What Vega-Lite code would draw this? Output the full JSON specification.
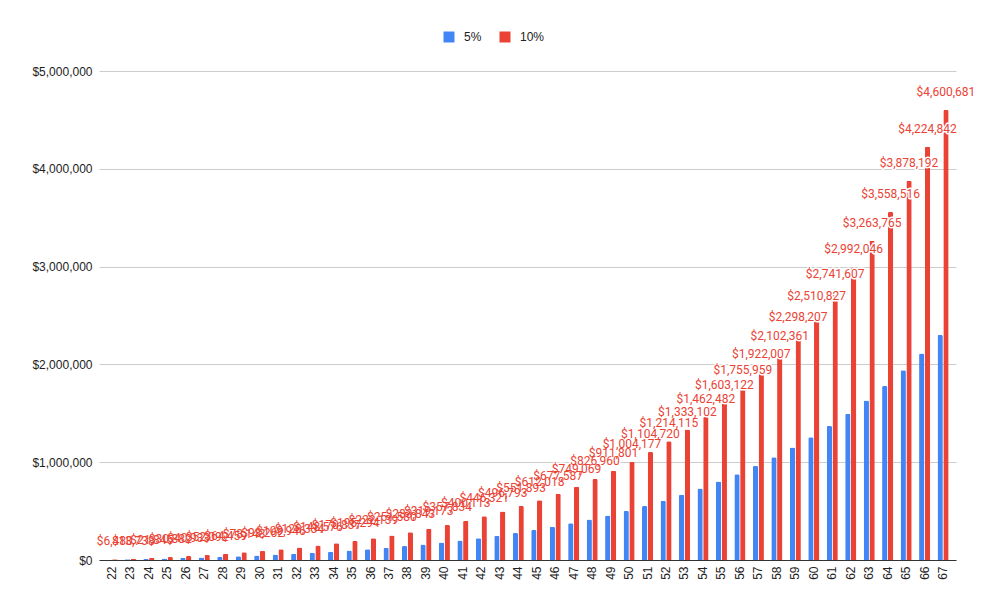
{
  "$schema": "https://vega.github.io/schema/vega-lite/v6.json",
  "width": 857,
  "height": 489,
  "autosize": {"type": "none"},
  "padding": {"left": 99, "top": 71, "right": 31, "bottom": 51},
  "background": "white",
  "config": {
    "view": {"stroke": null},
    "font": "Liberation Sans"
  },
  "data": {
    "values": [
      {"age": 22, "series": "5%", "value": 3240}, {"age": 22, "series": "10%", "value": 6480},
      {"age": 23, "series": "5%", "value": 6869}, {"age": 23, "series": "10%", "value": 13738},
      {"age": 24, "series": "5%", "value": 10923}, {"age": 24, "series": "10%", "value": 21845},
      {"age": 25, "series": "5%", "value": 15441}, {"age": 25, "series": "10%", "value": 30882},
      {"age": 26, "series": "5%", "value": 20467}, {"age": 26, "series": "10%", "value": 40933},
      {"age": 27, "series": "5%", "value": 26046}, {"age": 27, "series": "10%", "value": 52092},
      {"age": 28, "series": "5%", "value": 32229}, {"age": 28, "series": "10%", "value": 64459},
      {"age": 29, "series": "5%", "value": 39071}, {"age": 29, "series": "10%", "value": 78143},
      {"age": 30, "series": "5%", "value": 46631}, {"age": 30, "series": "10%", "value": 93262},
      {"age": 31, "series": "5%", "value": 54973}, {"age": 31, "series": "10%", "value": 109946},
      {"age": 32, "series": "5%", "value": 64167}, {"age": 32, "series": "10%", "value": 128334},
      {"age": 33, "series": "5%", "value": 74288}, {"age": 33, "series": "10%", "value": 148576},
      {"age": 34, "series": "5%", "value": 85419}, {"age": 34, "series": "10%", "value": 170837},
      {"age": 35, "series": "5%", "value": 97647}, {"age": 35, "series": "10%", "value": 195294},
      {"age": 36, "series": "5%", "value": 111069}, {"age": 36, "series": "10%", "value": 222139},
      {"age": 37, "series": "5%", "value": 125790}, {"age": 37, "series": "10%", "value": 251580},
      {"age": 38, "series": "5%", "value": 141922}, {"age": 38, "series": "10%", "value": 283843},
      {"age": 39, "series": "5%", "value": 159586}, {"age": 39, "series": "10%", "value": 319173},
      {"age": 40, "series": "5%", "value": 178917}, {"age": 40, "series": "10%", "value": 357834},
      {"age": 41, "series": "5%", "value": 200057}, {"age": 41, "series": "10%", "value": 400113},
      {"age": 42, "series": "5%", "value": 223160}, {"age": 42, "series": "10%", "value": 446321},
      {"age": 43, "series": "5%", "value": 248396}, {"age": 43, "series": "10%", "value": 496793},
      {"age": 44, "series": "5%", "value": 275947}, {"age": 44, "series": "10%", "value": 551893},
      {"age": 45, "series": "5%", "value": 306009}, {"age": 45, "series": "10%", "value": 612018},
      {"age": 46, "series": "5%", "value": 338794}, {"age": 46, "series": "10%", "value": 677587},
      {"age": 47, "series": "5%", "value": 374535}, {"age": 47, "series": "10%", "value": 749069},
      {"age": 48, "series": "5%", "value": 413480}, {"age": 48, "series": "10%", "value": 826960},
      {"age": 49, "series": "5%", "value": 455900}, {"age": 49, "series": "10%", "value": 911801},
      {"age": 50, "series": "5%", "value": 502088}, {"age": 50, "series": "10%", "value": 1004177},
      {"age": 51, "series": "5%", "value": 552360}, {"age": 51, "series": "10%", "value": 1104720},
      {"age": 52, "series": "5%", "value": 607057}, {"age": 52, "series": "10%", "value": 1214115},
      {"age": 53, "series": "5%", "value": 666551}, {"age": 53, "series": "10%", "value": 1333102},
      {"age": 54, "series": "5%", "value": 731241}, {"age": 54, "series": "10%", "value": 1462482},
      {"age": 55, "series": "5%", "value": 801561}, {"age": 55, "series": "10%", "value": 1603122},
      {"age": 56, "series": "5%", "value": 877980}, {"age": 56, "series": "10%", "value": 1755959},
      {"age": 57, "series": "5%", "value": 961003}, {"age": 57, "series": "10%", "value": 1922007},
      {"age": 58, "series": "5%", "value": 1051180}, {"age": 58, "series": "10%", "value": 2102361},
      {"age": 59, "series": "5%", "value": 1149103}, {"age": 59, "series": "10%", "value": 2298207},
      {"age": 60, "series": "5%", "value": 1255413}, {"age": 60, "series": "10%", "value": 2510827},
      {"age": 61, "series": "5%", "value": 1370803}, {"age": 61, "series": "10%", "value": 2741607},
      {"age": 62, "series": "5%", "value": 1496023}, {"age": 62, "series": "10%", "value": 2992046},
      {"age": 63, "series": "5%", "value": 1631882}, {"age": 63, "series": "10%", "value": 3263765},
      {"age": 64, "series": "5%", "value": 1779258}, {"age": 64, "series": "10%", "value": 3558516},
      {"age": 65, "series": "5%", "value": 1939096}, {"age": 65, "series": "10%", "value": 3878192},
      {"age": 66, "series": "5%", "value": 2112421}, {"age": 66, "series": "10%", "value": 4224842},
      {"age": 67, "series": "5%", "value": 2300340}, {"age": 67, "series": "10%", "value": 4600681}
    ]
  },
  "encoding": {
    "x": {
      "field": "age",
      "type": "ordinal",
      "scale": {"paddingInner": 0.4, "paddingOuter": 0.4},
      "axis": {
        "title": null,
        "labelAngle": -90,
        "labelFontSize": 12,
        "labelColor": "#222222",
        "labelPadding": 6,
        "ticks": false,
        "domainColor": "#333333",
        "grid": false
      }
    },
    "y": {
      "field": "value",
      "type": "quantitative",
      "scale": {"domain": [0, 5000000]},
      "axis": {
        "title": null,
        "values": [0, 1000000, 2000000, 3000000, 4000000, 5000000],
        "format": "$,.0f",
        "labelFontSize": 12,
        "labelColor": "#222222",
        "labelPadding": 7,
        "ticks": false,
        "domain": false,
        "gridColor": "#cccccc"
      }
    }
  },
  "layer": [
    {
      "mark": {"type": "bar", "cornerRadiusTopLeft": 1.5, "cornerRadiusTopRight": 1.5},
      "encoding": {
        "xOffset": {"field": "series", "scale": {"domain": ["5%", "10%"], "paddingInner": 0.08}},
        "color": {
          "field": "series",
          "type": "nominal",
          "scale": {"domain": ["5%", "10%"], "range": ["#4285F4", "#EA4335"]},
          "legend": {
            "orient": "none",
            "legendX": 344,
            "legendY": -40,
            "direction": "horizontal",
            "title": null,
            "symbolType": "square",
            "symbolSize": 121,
            "symbolStrokeWidth": 0,
            "symbolOpacity": 1,
            "labelFontSize": 12,
            "labelColor": "#222222",
            "labelOffset": 9,
            "columnPadding": 17
          }
        }
      }
    },
    {
      "transform": [{"filter": "datum.series === '10%'"}],
      "mark": {
        "type": "text",
        "font": "Roboto",
        "fontSize": 12,
        "baseline": "alphabetic",
        "dy": -14,
        "fill": "white",
        "stroke": "white",
        "strokeWidth": 3,
        "strokeJoin": "round"
      },
      "encoding": {
        "xOffset": {"field": "series", "scale": {"domain": ["5%", "10%"], "paddingInner": 0.08}},
        "text": {"field": "value", "type": "quantitative", "format": "$,.0f"}
      }
    },
    {
      "transform": [{"filter": "datum.series === '10%'"}],
      "mark": {
        "type": "text",
        "font": "Roboto",
        "fontSize": 12,
        "baseline": "alphabetic",
        "dy": -14,
        "fill": "#EA4335"
      },
      "encoding": {
        "xOffset": {"field": "series", "scale": {"domain": ["5%", "10%"], "paddingInner": 0.08}},
        "text": {"field": "value", "type": "quantitative", "format": "$,.0f"}
      }
    }
  ]
}
